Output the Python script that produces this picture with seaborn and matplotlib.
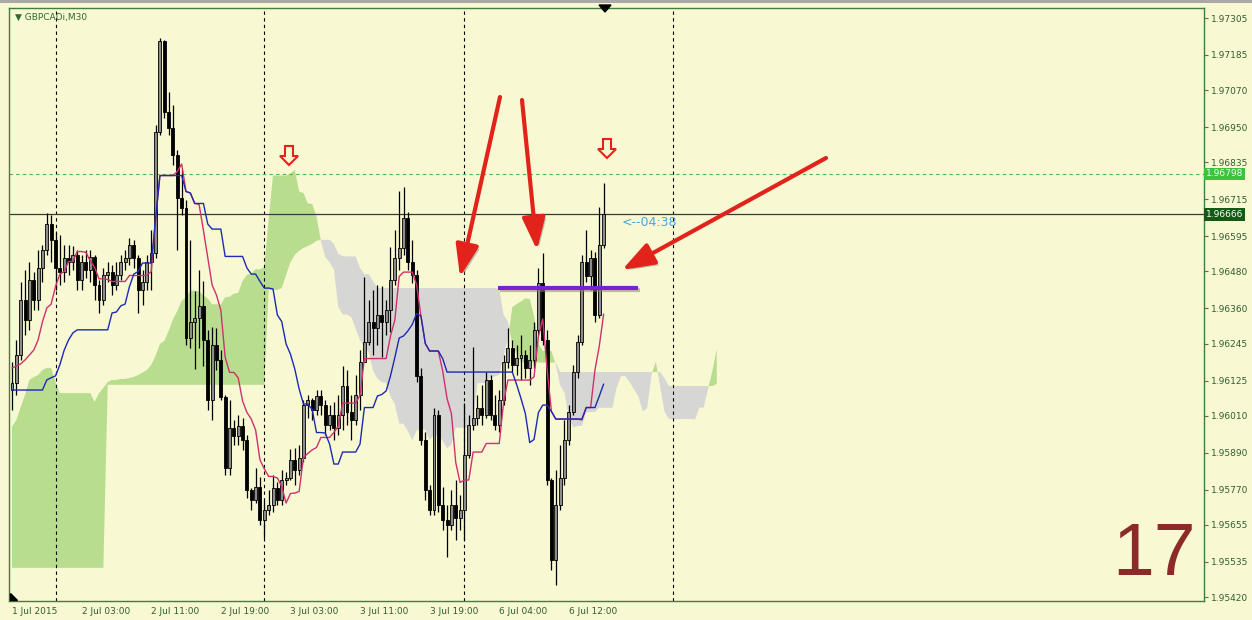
import numpy as np
import pandas as pd
import seaborn as sns
import matplotlib.pyplot as plt
import matplotlib.patheffects as pe
from matplotlib.patches import Polygon, Rectangle

# ---- data (GBPCADi, M30, one candle per 30 minutes) ----
symbol = "GBPCADi,M30"
first_open = 1.96094
close = [1.96117, 1.96208, 1.96387, 1.96322, 1.96452, 1.96387, 1.96491, 1.96550, 1.96635, 1.96583,
         1.96491, 1.96478, 1.96524, 1.96510, 1.96534, 1.96452, 1.96510, 1.96485, 1.96527, 1.96436,
         1.96387, 1.96469, 1.96478, 1.96436, 1.96469, 1.96510, 1.96524, 1.96567, 1.96524, 1.96420,
         1.96446, 1.96510, 1.96540, 1.96934, 1.97231, 1.96999, 1.96947, 1.96860, 1.96719, 1.96687,
         1.96264, 1.96316, 1.96329, 1.96367, 1.96257, 1.96062, 1.96241, 1.96192, 1.96071, 1.95840,
         1.95970, 1.95944, 1.95977, 1.95931, 1.95769, 1.95736, 1.95778, 1.95671, 1.95703, 1.95720,
         1.95775, 1.95736, 1.95801, 1.95808, 1.95866, 1.95834, 1.95873, 1.96046, 1.96062, 1.96029,
         1.96075, 1.96046, 1.95980, 1.96013, 1.95970, 1.96013, 1.96108, 1.96023, 1.95996, 1.96078,
         1.96186, 1.96251, 1.96316, 1.96296, 1.96339, 1.96316, 1.96355, 1.96452, 1.96524, 1.96557,
         1.96654, 1.96510, 1.96469, 1.96140, 1.95931, 1.95769, 1.95703, 1.96013, 1.95720, 1.95671,
         1.95655, 1.95720, 1.95677, 1.95703, 1.95883, 1.95980, 1.96003, 1.96036, 1.96013, 1.96127,
         1.96013, 1.95980, 1.96062, 1.96186, 1.96231, 1.96176, 1.96198, 1.96208, 1.96166, 1.96192,
         1.96290, 1.96442, 1.96257, 1.95801, 1.95541, 1.95720, 1.95808, 1.95931, 1.96023, 1.96153,
         1.96251, 1.96510, 1.96465, 1.96524, 1.96339, 1.96567, 1.96666]
high = [1.96185, 1.96257, 1.96446, 1.96485, 1.96510, 1.96478, 1.96550, 1.96567, 1.96670, 1.96664,
        1.96608, 1.96599, 1.96567, 1.96567, 1.96563, 1.96550, 1.96534, 1.96550, 1.96550, 1.96534,
        1.96452, 1.96491, 1.96510, 1.96501, 1.96510, 1.96534, 1.96550, 1.96589, 1.96583, 1.96534,
        1.96485, 1.96534, 1.96615, 1.96957, 1.97240, 1.97234, 1.97065, 1.97022, 1.96876, 1.96810,
        1.96713, 1.96583, 1.96417, 1.96485, 1.96449, 1.96290, 1.96299, 1.96296, 1.96224, 1.96078,
        1.96062, 1.95996, 1.96013, 1.96003, 1.95948, 1.95775, 1.95840, 1.95811, 1.95736, 1.95769,
        1.95818, 1.95795, 1.95834, 1.95827, 1.95902, 1.95905, 1.95915, 1.96062, 1.96078, 1.96068,
        1.96094, 1.96094, 1.96062, 1.96046, 1.96055, 1.96078, 1.96172, 1.96159, 1.96078, 1.96143,
        1.96224, 1.96462, 1.96387, 1.96420, 1.96436, 1.96433, 1.96387, 1.96560, 1.96615, 1.96742,
        1.96755, 1.96674, 1.96583, 1.96485, 1.96166, 1.95957, 1.95785, 1.96036, 1.96029, 1.95778,
        1.95720, 1.95769, 1.95801, 1.95752, 1.96052, 1.96013, 1.96234, 1.96078, 1.96111, 1.96153,
        1.96143, 1.96078, 1.96094, 1.96208, 1.96296, 1.96257, 1.96241, 1.96274, 1.96224, 1.96241,
        1.96316, 1.96491, 1.96540, 1.96290, 1.95808, 1.95834, 1.95915, 1.95996, 1.96046, 1.96176,
        1.96274, 1.96534, 1.96615, 1.96550, 1.96543, 1.96690, 1.96768]
low = [1.96029, 1.96078, 1.96192, 1.96273, 1.96290, 1.96355, 1.96355, 1.96446, 1.96534, 1.96510,
       1.96420, 1.96436, 1.96446, 1.96469, 1.96485, 1.96420, 1.96420, 1.96459, 1.96446, 1.96387,
       1.96345, 1.96371, 1.96446, 1.96404, 1.96420, 1.96452, 1.96485, 1.96501, 1.96491, 1.96345,
       1.96371, 1.96420, 1.96420, 1.96524, 1.96925, 1.96980, 1.96925, 1.96827, 1.96550, 1.96664,
       1.96241, 1.96231, 1.96163, 1.96231, 1.96172, 1.96029, 1.95996, 1.96159, 1.96062, 1.95818,
       1.95818, 1.95915, 1.95915, 1.95899, 1.95743, 1.95703, 1.95726, 1.95655, 1.95612, 1.95687,
       1.95697, 1.95720, 1.95720, 1.95785, 1.95801, 1.95785, 1.95818, 1.95860, 1.96003, 1.95996,
       1.96013, 1.96013, 1.95948, 1.95964, 1.95931, 1.95948, 1.95964, 1.95980, 1.95931, 1.95980,
       1.96029, 1.96186, 1.96241, 1.96208, 1.96241, 1.96201, 1.96273, 1.96283, 1.96436, 1.96485,
       1.96534, 1.96485, 1.96442, 1.96120, 1.95915, 1.95736, 1.95687, 1.95687, 1.95697, 1.95638,
       1.95550, 1.95638, 1.95606, 1.95638, 1.95606, 1.95873, 1.95964, 1.95980, 1.95980, 1.96003,
       1.95996, 1.95964, 1.95957, 1.96046, 1.96166, 1.96153, 1.96143, 1.96127, 1.96133, 1.96111,
       1.96166, 1.96273, 1.96241, 1.95785, 1.95508, 1.95459, 1.95703, 1.95785, 1.95915, 1.96013,
       1.96133, 1.96241, 1.96446, 1.96420, 1.96316, 1.96329, 1.96557]

# Ichimoku values at the left edge depend on history that is off screen,
# so the first points are read straight from the picture
tenkan_head = [1.96166, 1.96172, 1.96179, 1.96192, 1.96208, 1.96224, 1.96257, 1.96316, 1.96361]
kijun_head = [1.96094, 1.96094, 1.96094, 1.96094, 1.96094, 1.96094, 1.96094, 1.96094, 1.96127,
              1.96134, 1.96140, 1.96176, 1.96224, 1.96257, 1.96280, 1.96290, 1.96290, 1.96290,
              1.96290, 1.96290, 1.96290, 1.96290, 1.96290, 1.96345, 1.96348, 1.96368]
span_a_head = [1.95974, 1.95996, 1.96039, 1.96078, 1.96127, 1.96136, 1.96143, 1.96159, 1.96166,
               1.96166, 1.96120, 1.96084, 1.96084, 1.96084, 1.96084, 1.96084, 1.96084, 1.96084,
               1.96084, 1.96055, 1.96084, 1.96101, 1.96120, 1.96127, 1.96127, 1.96130]
span_b_head = ([1.95515] * 22 + [1.96111] * 37 +
               [1.96420, 1.96420, 1.96420, 1.96426, 1.96469, 1.96510, 1.96534, 1.96547, 1.96557,
                1.96563, 1.96570, 1.96580, 1.96583, 1.96583, 1.96583, 1.96570, 1.96537, 1.96530])

time_labels = ["1 Jul 2015", "2 Jul 03:00", "2 Jul 11:00", "2 Jul 19:00", "3 Jul 03:00",
               "3 Jul 11:00", "3 Jul 19:00", "6 Jul 04:00", "6 Jul 12:00"]
time_label_bars = [0, 16, 32, 48, 64, 80, 96, 112, 128]
day_start_bars = [10, 58, 104, 152]

price_ticks = [1.97305, 1.97185, 1.97070, 1.96950, 1.96835, 1.96715, 1.96595, 1.96480, 1.96360,
               1.96245, 1.96125, 1.96010, 1.95890, 1.95770, 1.95655, 1.95535, 1.95420]
ask_price = 1.96798
bid_price = 1.96666
level_price = 1.96425
countdown = "<--04:38"
slide_no = "17"

# ---- frame ----
W, H = 1252, 620
BG = "#F8F8D2"
FRAME = "#3F7F3F"
LABEL = "#2F5F2F"

sns.set_theme(style="white", rc={"axes.facecolor": BG, "figure.facecolor": BG})
plt.rcParams["font.family"] = ["DejaVu Sans"]

fig = plt.figure(figsize=(W / 100, H / 100), dpi=100, facecolor=BG)
ax = fig.add_axes([9 / W, 19 / H, 1195 / W, 593 / H])
ax.set_facecolor(BG)


def fx(x):
    return x / W


def fy(y):
    return 1 - y / H


df = pd.DataFrame({"close": close, "high": high, "low": low})
df["open"] = [first_open] + close[:-1]
df["bar"] = np.arange(len(df))

# Ichimoku (9, 26, 52), continued from the values read at the left edge
tenkan = (df["high"].rolling(9).max() + df["low"].rolling(9).min()) / 2
tenkan.iloc[:9] = tenkan_head
kijun = (df["high"].rolling(26).max() + df["low"].rolling(26).min()) / 2
kijun.iloc[:26] = kijun_head
span_a = np.r_[span_a_head, ((tenkan + kijun) / 2).values]
mid52 = ((df["high"].rolling(52).max() + df["low"].rolling(52).min()) / 2).values
span_b = np.r_[span_b_head, mid52[51:]]
cloud_x = np.arange(len(span_a))

ax.fill_between(cloud_x, span_a, span_b, where=span_a >= span_b, interpolate=True,
                color="#B8DD8E", lw=0, zorder=1)
ax.fill_between(cloud_x, span_a, span_b, where=span_a < span_b, interpolate=True,
                color="#D6D6D4", lw=0, zorder=1)

# day separators
for b in day_start_bars:
    ax.axvline(b, color="black", lw=0.8, ls=(0, (3, 3)), zorder=2)

ax.axhline(ask_price, color="#46B946", lw=0.8, ls=(0, (3, 3)), zorder=2)
ax.axhline(bid_price, color="#3A3A3A", lw=0.9, zorder=2)

# candles
up = df["close"] >= df["open"]
ax.vlines(df["bar"], df["low"], df["high"], color="black", lw=0.9, zorder=3)
body = (df["close"] - df["open"]).abs().clip(lower=0.00002)
ax.bar(df["bar"], body, bottom=np.minimum(df["open"], df["close"]), width=0.68,
       color=np.where(up, "#8C8C8C", "black"), edgecolor="black", linewidth=0.6, zorder=4)

sns.lineplot(x=df["bar"], y=tenkan, ax=ax, color="#D0306E", lw=1.0, zorder=5)
sns.lineplot(x=df["bar"], y=kijun, ax=ax, color="#1D2AB5", lw=1.0, zorder=5)

# hand-drawn level
ax.hlines(level_price, 111.7, 143.9, color="#7A22D2", lw=3, zorder=6,
          path_effects=[pe.SimpleLineShadow(offset=(1.5, -1.5), shadow_color="gray", alpha=0.5),
                        pe.Normal()])

ax.set_xlim(-0.69, 274.0)
ax.set_ylim(1.95407, 1.97338)
ax.set_xlabel("")
ax.set_ylabel("")

ax.yaxis.tick_right()
ax.set_yticks(price_ticks)
ax.set_yticklabels([f"{p:.5f}" for p in price_ticks])
ax.set_xticks(time_label_bars)
ax.set_xticklabels(time_labels, ha="left")
ax.tick_params(axis="y", direction="out", length=3, width=0.8, color=FRAME,
               labelcolor=LABEL, labelsize=6.5, pad=2, right=True, left=False)
ax.tick_params(axis="x", direction="out", length=3, width=0.8, color=FRAME,
               labelcolor=LABEL, labelsize=6.5, pad=1.5)
for s in ax.spines.values():
    s.set_color(FRAME)
    s.set_linewidth(1.0)

# price boxes on the axis
ax.text(1.0015, ask_price, f"{ask_price:.5f}", transform=ax.get_yaxis_transform(),
        va="center", ha="left", fontsize=6.5, color="#F0FFF0",
        bbox=dict(boxstyle="square,pad=0.2", fc="#3CC23C", ec="none"), zorder=8)
ax.text(1.0015, bid_price, f"{bid_price:.5f}", transform=ax.get_yaxis_transform(),
        va="center", ha="left", fontsize=6.5, color="white",
        bbox=dict(boxstyle="square,pad=0.2", fc="#145A14", ec="none"), zorder=8)

# texts
fig.text(fx(15), fy(17), "\u25BC " + symbol, fontsize=6.5, color="#2D6A2D", va="center")
fig.text(fx(622), fy(223), countdown, fontsize=9, color="#4DA3E0", va="center")
fig.text(fx(1196), fy(575), slide_no, fontsize=54, color="#8C2A2A", ha="right",
         va="baseline", family="Liberation Sans")

# red hand-drawn arrows
shadow = [pe.withSimplePatchShadow(offset=(2, -2), shadow_rgbFace="#7A7A7A", alpha=0.45)]
for tail, head in [((500, 97), (460, 277)), ((522, 100), (537, 250)), ((826, 158), (622, 270))]:
    ann = ax.annotate("", xy=(head[0], H - head[1]), xytext=(tail[0], H - tail[1]),
                      xycoords="figure pixels", textcoords="figure pixels",
                      arrowprops=dict(arrowstyle="-|>,head_length=1.4,head_width=0.5",
                                      lw=3, color="#E2231B", mutation_scale=14,
                                      shrinkA=0, shrinkB=0), zorder=9)
    ann.arrow_patch.set_path_effects(shadow)

# hollow down arrows
shape = [(-4, -10), (4, -10), (4, 0), (9, 0), (0, 9), (-9, 0), (-4, 0)]
for cx, cy in [(289, 156), (607, 149)]:
    pts = [(fx(cx + dx), fy(cy + dy)) for dx, dy in shape]
    fig.add_artist(Polygon(pts, closed=True, fill=False, ec="#E3241C", lw=1.5,
                           transform=fig.transFigure))

# chart shift marker, corner mark and window edge
fig.add_artist(Polygon([(fx(599), fy(5)), (fx(611), fy(5)), (fx(605), fy(12))], closed=True,
                       color="black", transform=fig.transFigure))
fig.add_artist(Polygon([(fx(10), fy(593)), (fx(10), fy(600)), (fx(17), fy(600))], closed=True,
                       color="black", transform=fig.transFigure))
fig.add_artist(Rectangle((0, fy(3)), 1, 3 / H, color="#A8A8A8", lw=0,
                         transform=fig.transFigure))

fig.savefig("out.png", dpi=100, facecolor=BG)
